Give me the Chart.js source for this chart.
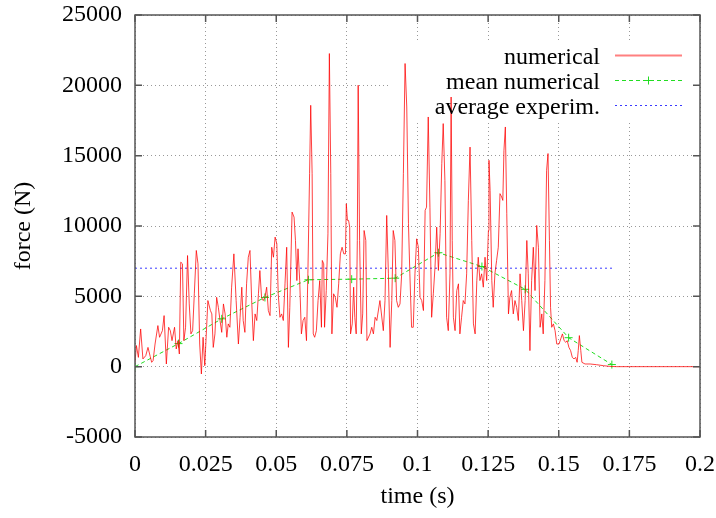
<!DOCTYPE html>
<html lang="en">
<head>
    <meta charset="UTF-8">
    <title>force (N) x time (s)</title>
    <script src="https://cdn.jsdelivr.net/npm/chart.js"></script>
    <style>
        html, body { margin: 0; padding: 0; background: #fff; }
    </style>
</head>
<body>
    <canvas id="grafico" width="716" height="518"></canvas>

<script>
    // numerical force history: [time (s), force (N)]
    var numerical = [
        [0, 300], [0.0005, 1500], [0.0012, 660], [0.002, 2680], [0.0028, 550], [0.0038, 780],
        [0.0046, 1370], [0.0054, 710], [0.0059, 310], [0.0064, 430], [0.0071, 1610], [0.0081, 2920],
        [0.0087, 2090], [0.0097, 2560], [0.0103, 3630], [0.0111, 190], [0.0119, 2800], [0.0125, 2560],
        [0.0131, 1850], [0.014, 2800], [0.0146, 1260], [0.0152, 1850], [0.0157, 900], [0.0162, 7430],
        [0.0168, 7310], [0.0173, 1850], [0.0179, 2800], [0.0186, 7900], [0.0192, 4460], [0.0198, 2330],
        [0.0204, 2560], [0.021, 5180], [0.0217, 8260], [0.0223, 7310], [0.0229, 1610], [0.0235, -520],
        [0.0241, 2090], [0.0247, 70], [0.0258, 4700], [0.0267, 3990],
        [0.0272, 3750], [0.0277, 1370], [0.0283, 2330], [0.0289, 4930], [0.0295, 4220], [0.0301, 3280],
        [0.0307, 2440], [0.0313, 4460], [0.0319, 3750], [0.0325, 2090], [0.033, 3040], [0.0336, 2800],
        [0.0342, 5650], [0.035, 8020], [0.0358, 4700], [0.0366, 1610], [0.0372, 3510], [0.0378, 5650],
        [0.0383, 3280], [0.0389, 2440], [0.0395, 5890], [0.0401, 7780], [0.0407, 8260], [0.0413, 4700],
        [0.0419, 1850], [0.0425, 3750], [0.0431, 3280], [0.0437, 5180], [0.0442, 6830], [0.0448, 4930],
        [0.0454, 4700], [0.046, 4930], [0.0466, 5650], [0.0472, 3990], [0.0478, 3630], [0.0484, 8490],
        [0.049, 7780], [0.0496, 9210], [0.0502, 8740], [0.0507, 5180], [0.0513, 3510], [0.0519, 3750],
        [0.0525, 3280], [0.0531, 5890], [0.0537, 8490],
        [0.0543, 1370], [0.0548, 4220], [0.0556, 10990], [0.0563, 10630], [0.0568, 8970], [0.0573, 6120],
        [0.0577, 8380], [0.0583, 6120], [0.0589, 2330], [0.0595, 3280], [0.0601, 3510], [0.0607, 1850],
        [0.0612, 6600], [0.0618, 13720], [0.0622, 18580], [0.0627, 13720], [0.0631, 2330], [0.0636, 2090],
        [0.0642, 2560], [0.0648, 4700], [0.0654, 6120], [0.066, 2800], [0.0663, 7550], [0.0668, 7310],
        [0.0671, 2800], [0.0677, 5410], [0.0683, 9450], [0.0688, 22260], [0.0693, 13720], [0.0697, 2330],
        [0.0703, 5180], [0.0709, 4930], [0.0715, 4220], [0.0721, 5890], [0.0727, 8020], [0.0733, 8490],
        [0.0739, 8020], [0.0745, 8020], [0.0748, 11580], [0.0752, 10400], [0.0756, 10400], [0.076, 9920],
        [0.0763, 2330], [0.0769, 3040], [0.0774, 5650], [0.0778, 3510], [0.0783, 2330], [0.0787, 8970],
        [0.079, 20010], [0.0795, 8970], [0.0801, 2330], [0.0806, 3750], [0.0811, 9680], [0.0817, 8970],
        [0.0821, 1850],
        [0.0832, 2330], [0.0838, 2800], [0.0844, 2330], [0.085, 3510], [0.0856, 3280], [0.0867, 4700],
        [0.0879, 2560], [0.0885, 4700], [0.0891, 10750], [0.0897, 6600], [0.0903, 1370], [0.0909, 4700],
        [0.0914, 9680], [0.092, 8970], [0.0926, 4700], [0.0932, 4220], [0.0938, 4460], [0.0944, 6600],
        [0.095, 13720], [0.0956, 21550], [0.0962, 18460], [0.0968, 10160], [0.0973, 6600], [0.0979, 2800],
        [0.0985, 2800], [0.0991, 6600], [0.0997, 9090], [0.1003, 8490],
        [0.1009, 4930], [0.1015, 4700], [0.1021, 3990], [0.1027, 11110], [0.1032, 11340], [0.1038, 17750],
        [0.1044, 11340], [0.105, 3510], [0.1056, 5180], [0.1062, 7070], [0.1068, 9920], [0.1074, 6840],
        [0.108, 9450], [0.1086, 14430], [0.1091, 17280], [0.1097, 13240], [0.1103, 3510], [0.1109, 2560],
        [0.1115, 6600], [0.1119, 19170], [0.1123, 8970], [0.1127, 3510], [0.1133, 2560], [0.1139, 5410],
        [0.1145, 5890], [0.115, 2330], [0.1156, 3510], [0.1162, 4700], [0.1168, 4460], [0.1174, 6600],
        [0.118, 11820], [0.1186, 15610], [0.1192, 8970], [0.1198, 3040], [0.1204, 2330], [0.121, 6120],
        [0.1215, 7780], [0.1221, 6120], [0.1227, 6600], [0.1233, 5650], [0.1239, 7780], [0.1245, 6120],
        [0.1251, 9680], [0.1253, 14670], [0.1257, 12530], [0.1263, 6120], [0.1268, 4220], [0.1274, 6600],
        [0.128, 7550], [0.1286, 8490], [0.1292, 12300], [0.1298, 12060], [0.1302, 11820], [0.1306, 15380],
        [0.1311, 17040], [0.1316, 10870], [0.1322, 3750], [0.1327, 4930], [0.1333, 5410], [0.1339, 3750],
        [0.1345, 4700], [0.1351, 4220], [0.1357, 3280], [0.1363, 6600], [0.1369, 4700], [0.1375, 2560],
        [0.1381, 4700], [0.1387, 8970], [0.1392, 6600], [0.1398, 1140], [0.1404, 6120], [0.141, 8490],
        [0.1416, 5410], [0.1422, 10040], [0.1428, 8490], [0.1434, 2800], [0.144, 3750], [0.1445, 2330],
        [0.1451, 6120], [0.1457, 13960], [0.1462, 15150], [0.1467, 8970], [0.1471, 4220], [0.1475, 2800],
        [0.1481, 3040], [0.1487, 2560], [0.1493, 1610], [0.1501, 1610], [0.1507, 1970], [0.1513, 2330],
        [0.1519, 1850], [0.1525, 1730], [0.153, 1850], [0.1536, 1370], [0.1542, 1140], [0.1548, 660],
        [0.1554, 550], [0.156, 660], [0.1565, 310], [0.1569, 1140], [0.1573, 2210], [0.1578, 1140],
        [0.1582, 310], [0.1593, 190], [0.1611, 190], [0.1634, 140], [0.1658, 70], [0.1681, 20],
        [0.1705, 0], [0.2, 0]
    ];

    // running mean of the numerical force
    var meanTime = [0, 0.0154, 0.0307, 0.046, 0.0614, 0.0767, 0.0921, 0.1074, 0.1228, 0.1381, 0.1535, 0.1688];
    var meanForce = [0, 1640, 3400, 4920, 6180, 6220, 6290, 8100, 7120, 5500, 2060, 150];

    // experimental average, held over the impact duration
    var expTime = [0, 0.169];
    var expForce = [7000, 7000];

    var xTicks = [0, 0.025, 0.05, 0.075, 0.1, 0.125, 0.15, 0.175, 0.2];
    var yTicks = [-5000, 0, 5000, 10000, 15000, 20000, 25000];

    var fonte = 'Liberation Serif, DejaVu Serif, serif';

    function pontos(ts, fs) {
        var lista = [];
        for (var i = 0; i < ts.length; i++) {
            lista.push({ x: ts[i], y: fs[i] });
        }
        return lista;
    }

    // gnuplot style frame, inward ticks and key box
    var moldura = {
        id: 'moldura',
        beforeDatasetsDraw: function (chart) {
            var a = chart.chartArea;
            var ctx = chart.ctx;
            ctx.save();
            ctx.fillStyle = '#fff';
            ctx.fillRect(390, 42, a.right - 391, 78);
            ctx.restore();
        },
        afterDraw: function (chart) {
            var a = chart.chartArea;
            var ctx = chart.ctx;
            var sx = chart.scales.x;
            var sy = chart.scales.y;
            ctx.save();
            ctx.strokeStyle = '#555';
            ctx.lineWidth = 1.5;
            ctx.strokeRect(a.left, a.top, a.right - a.left, a.bottom - a.top);

            ctx.beginPath();
            xTicks.forEach(function (t) {
                var px = sx.getPixelForValue(t);
                ctx.moveTo(px, a.bottom); ctx.lineTo(px, a.bottom - 7);
                ctx.moveTo(px, a.top); ctx.lineTo(px, a.top + 7);
            });
            yTicks.forEach(function (v) {
                var py = sy.getPixelForValue(v);
                ctx.moveTo(a.left, py); ctx.lineTo(a.left + 7, py);
                ctx.moveTo(a.right, py); ctx.lineTo(a.right - 7, py);
            });
            ctx.stroke();

            // key
            var xs = chart.data.datasets;
            var textoX = a.right - 100;
            var linhaIni = a.right - 85;
            var linhaFim = a.right - 18;
            var bases = [64, 89, 114];
            ctx.font = '24px ' + fonte;
            ctx.textAlign = 'right';
            ctx.textBaseline = 'alphabetic';
            for (var i = 0; i < xs.length; i++) {
                var ds = xs[i];
                var ly = bases[i] - 8.5;
                ctx.fillStyle = '#000';
                ctx.fillText(ds.label, textoX, bases[i]);
                ctx.strokeStyle = ds.legendaCor || ds.borderColor;
                ctx.lineWidth = ds.legendaLargura;
                ctx.setLineDash(ds.borderDash || []);
                ctx.beginPath();
                ctx.moveTo(linhaIni, ly);
                ctx.lineTo(linhaFim, ly);
                ctx.stroke();
                ctx.setLineDash([]);
                if (ds.pointRadius > 0) {
                    var cx = (linhaIni + linhaFim) / 2;
                    ctx.lineWidth = 1;
                    ctx.beginPath();
                    ctx.moveTo(cx - 4, ly); ctx.lineTo(cx + 4, ly);
                    ctx.moveTo(cx, ly - 4); ctx.lineTo(cx, ly + 4);
                    ctx.stroke();
                }
            }
            ctx.restore();
        }
    };

    var config = {
        type: 'line',
        data: {
            datasets: [{
                label: 'numerical',
                data: numerical.map(function (p) { return { x: p[0], y: p[1] }; }),
                borderColor: 'rgba(255, 0, 0, 0.75)',
                borderWidth: 1,
                legendaCor: '#ff8080',
                legendaLargura: 2,
                pointRadius: 0,
                tension: 0,
                fill: false
            }, {
                label: 'mean numerical',
                data: pontos(meanTime, meanForce),
                borderColor: '#22dd22',
                borderWidth: 1,
                legendaLargura: 1,
                borderDash: [4, 3],
                pointStyle: 'cross',
                pointRadius: 4,
                pointBorderWidth: 1,
                pointBorderColor: '#22dd22',
                tension: 0,
                fill: false
            }, {
                label: 'average experim.',
                data: pontos(expTime, expForce),
                borderColor: '#3a3aff',
                borderWidth: 1,
                legendaLargura: 1,
                borderDash: [2, 3],
                pointRadius: 0,
                tension: 0,
                fill: false
            }]
        },
        options: {
            responsive: false,
            animation: false,
            layout: { padding: { top: 15, right: 16, left: 0, bottom: 0 } },
            plugins: {
                legend: { display: false },
                tooltip: { enabled: false }
            },
            scales: {
                x: {
                    type: 'linear',
                    min: 0,
                    max: 0.2,
                    afterFit: function (s) {
                        s.height = 81;
                        s.paddingLeft = 0;
                        s.paddingRight = 0;
                    },
                    afterBuildTicks: function (s) { s.ticks = xTicks.map(function (v) { return { value: v }; }); },
                    ticks: {
                        padding: 13,
                        color: '#000',
                        font: { size: 24, family: fonte },
                        maxRotation: 0,
                        callback: function (v) { return parseFloat(v.toFixed(3)).toString(); }
                    },
                    grid: { color: '#999', drawTicks: false, lineWidth: 1 },
                    border: { display: false, dash: [1, 3] },
                    title: {
                        display: true,
                        text: 'time (s)',
                        color: '#000',
                        font: { size: 24, family: fonte },
                        padding: { top: 0, bottom: 7 }
                    }
                },
                y: {
                    min: -5000,
                    max: 25000,
                    afterFit: function (s) {
                        s.width = 135;
                        s.paddingTop = 0;
                        s.paddingBottom = 0;
                    },
                    afterBuildTicks: function (s) { s.ticks = yTicks.map(function (v) { return { value: v }; }); },
                    ticks: {
                        padding: 13,
                        color: '#000',
                        font: { size: 24, family: fonte },
                        callback: function (v) { return v.toString(); }
                    },
                    grid: { color: '#999', drawTicks: false, lineWidth: 1 },
                    border: { display: false, dash: [1, 3] },
                    title: {
                        display: true,
                        text: 'force (N)',
                        color: '#000',
                        font: { size: 24, family: fonte },
                        padding: { top: 9, bottom: 0 }
                    }
                }
            }
        },
        plugins: [moldura]
    };

    var ctx = document.getElementById('grafico').getContext('2d');
    var grafico = new Chart(ctx, config);
</script>
</body>
</html>
